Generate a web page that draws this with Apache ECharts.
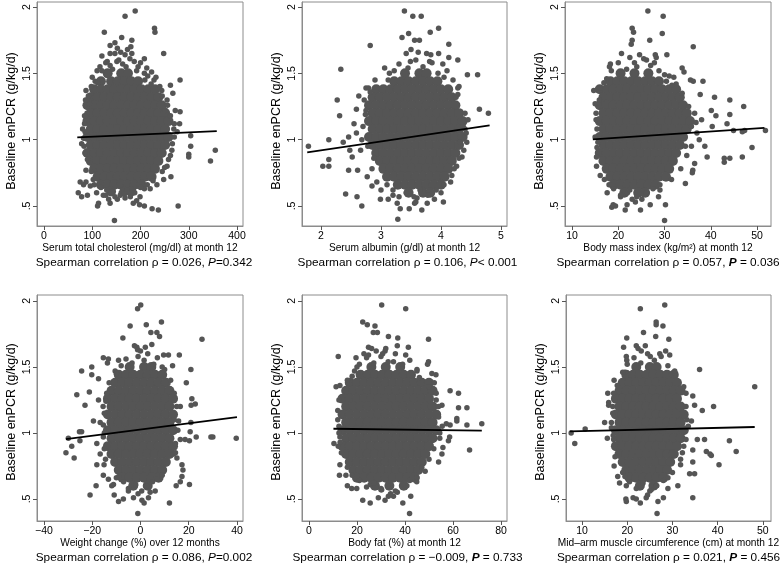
<!DOCTYPE html>
<html>
<head>
<meta charset="utf-8">
<script src="https://cdn.jsdelivr.net/npm/echarts@6/dist/echarts.min.js"></script>
<style>
html, body { margin: 0; padding: 0; background: #fff; }
#chart { width: 784px; height: 565px; }
</style>
</head>
<body>
<div id="chart"></div>
<script>
var yTicks = [0.5, 1, 1.5, 2];

// dense centre of each cloud: [y, x, x, x ...]
var cholCore = [
    [1.50,132,160,174],
    [1.44,118,139,153,167,181,195],
    [1.38,104,118,132,146,160,174,188,202,216,230],
    [1.32,97,111,125,139,153,167,181,195,209,223,237],
    [1.26,90,104,118,132,146,160,174,188,202,216,230,244],
    [1.20,97,111,125,139,153,167,181,195,209,223,237,251],
    [1.14,90,104,118,132,146,160,174,188,202,216,230,244,258],
    [1.08,97,111,125,139,153,167,181,195,209,223,237,251],
    [1.02,90,104,118,132,146,160,174,188,202,216,230,244,258],
    [0.96,97,111,125,139,153,167,181,195,209,223,237,251],
    [0.90,90,104,118,132,146,160,174,188,202,216,230,244],
    [0.84,97,111,125,139,153,167,181,195,209,223,237],
    [0.78,104,118,132,146,160,174,188,202,216,230],
    [0.72,111,125,139,153,167,181,195,209,223],
    [0.66,118,132,146,160,174,188,202],
    [0.61,139,167,181]
];
var cholPts = [
    [168,1.93],[189,1.97],[125,1.81],[229,1.84],[230,1.81],[161,1.77],[182,1.75],[180,1.70],[137,1.71],[147,1.73],
    [137,1.65],[147,1.65],[168,1.64],[182,1.65],[248,1.65],[159,1.66],[131,1.59],[151,1.59],[187,1.59],[208,1.61],
    [116,1.55],[137,1.56],[163,1.57],[213,1.54],[223,1.51],[282,1.45],[262,1.41],[244,1.37],[267,1.35],[255,1.30],
    [87,1.37],[272,1.22],[282,1.21],[281,1.12],[269,1.08],[304,1.03],[304,0.95],[300,0.89],[300,0.87],[345,0.84],
    [355,0.92],[265,0.92],[258,0.85],[263,0.72],[248,0.70],[234,0.66],[220,0.63],[208,0.63],[278,0.50],[237,0.47],
    [224,0.48],[146,0.39],[111,0.50],[113,0.52],[137,0.52],[152,0.55],[147,0.57],[185,0.52],[198,0.51],[208,0.50],
    [179,0.57],[199,0.57],[109,0.60],[123,0.58],[71,0.60],[78,0.57],[90,0.58],[96,0.65],[87,0.68],[82,0.66],
    [75,0.68],[78,0.97],[82,1.01],[85,1.06],[89,1.20],[94,1.27],[90,0.85],[87,0.77],[100,1.47],[208,1.50],
    [228,1.45],[240,1.40],[256,1.26],[262,1.18],[270,1.02],[266,0.97],[255,0.80],[245,0.76],[102,0.70],[98,0.76],
    [85,0.90],[84,1.12],[86,1.30],[110,1.52],[195,1.55],[168,0.56],[160,0.60],[130,0.62],
    [120,1.52],[128,1.58],[142,1.53],[155,1.60],[170,1.55],[178,1.61],[192,1.52],[200,1.58],[215,1.48],[106,1.44],
    [232,1.47],[120,1.63],[173,1.68],[152,1.69],[118,0.64],[128,0.58],[140,0.61],[158,0.58],[172,0.62],[188,0.60],
    [200,0.64],[214,0.66],[226,0.69],[104,0.66],[134,0.55],[192,0.54],[84,1.18],[80,1.08],[83,0.95],[92,1.33],
    [98,1.40],[270,1.12],[262,0.88],[250,0.79],[276,1.06],[245,1.33],[252,1.22],[111,1.43],[209,1.45],[222,1.42]
];
var cholFit = [[69,1.017],[358,1.064]];

var albCore = [
    [1.50,3.40,3.64,3.76],
    [1.44,3.22,3.34,3.46,3.58,3.70,3.82,3.94],
    [1.38,2.92,3.04,3.16,3.28,3.40,3.52,3.64,3.76,3.88,4.00,4.12],
    [1.32,2.86,2.98,3.10,3.22,3.34,3.46,3.58,3.70,3.82,3.94,4.06,4.18],
    [1.26,2.80,2.92,3.04,3.16,3.28,3.40,3.52,3.64,3.76,3.88,4.00,4.12,4.24],
    [1.20,2.86,2.98,3.10,3.22,3.34,3.46,3.58,3.70,3.82,3.94,4.06,4.18,4.30],
    [1.14,2.80,2.92,3.04,3.16,3.28,3.40,3.52,3.64,3.76,3.88,4.00,4.12,4.24,4.36],
    [1.08,2.86,2.98,3.10,3.22,3.34,3.46,3.58,3.70,3.82,3.94,4.06,4.18,4.30],
    [1.02,2.80,2.92,3.04,3.16,3.28,3.40,3.52,3.64,3.76,3.88,4.00,4.12,4.24,4.36],
    [0.96,2.86,2.98,3.10,3.22,3.34,3.46,3.58,3.70,3.82,3.94,4.06,4.18,4.30],
    [0.90,2.92,3.04,3.16,3.28,3.40,3.52,3.64,3.76,3.88,4.00,4.12,4.24],
    [0.84,2.98,3.10,3.22,3.34,3.46,3.58,3.70,3.82,3.94,4.06,4.18],
    [0.78,3.04,3.16,3.28,3.40,3.52,3.64,3.76,3.88,4.00,4.12],
    [0.72,3.10,3.22,3.34,3.46,3.58,3.70,3.82,3.94,4.06],
    [0.66,3.28,3.40,3.52,3.64,3.76,3.88,4.00],
    [0.60,3.46,3.70,3.82]
];
var albPts = [
    [3.39,1.97],[3.53,1.93],[3.67,1.93],[3.46,1.80],[3.82,1.81],[3.96,1.84],[3.35,1.77],[3.56,1.75],[3.64,1.75],[2.82,1.71],
    [3.42,1.65],[3.76,1.65],[3.83,1.64],[3.96,1.65],[4.13,1.72],[4.13,1.62],[3.81,1.59],[3.49,1.59],[4.03,1.57],[4.28,1.60],
    [2.33,1.53],[3.06,1.54],[3.14,1.50],[4.44,1.49],[4.61,1.49],[4.28,1.39],[4.28,1.34],[2.75,1.39],[2.79,1.39],[2.27,1.30],
    [2.63,1.33],[2.59,1.23],[2.31,1.18],[2.74,1.19],[4.64,1.23],[4.79,1.20],[4.37,1.10],[4.42,1.05],[4.43,0.98],[4.38,0.92],
    [4.35,0.87],[4.26,0.80],[4.18,0.73],[4.16,0.68],[1.79,0.95],[2.13,1.00],[2.46,1.02],[2.37,0.98],[2.48,0.92],[2.52,0.87],
    [2.59,1.05],[2.03,0.80],[2.13,0.85],[2.13,0.80],[2.46,0.77],[2.61,0.77],[2.41,0.59],[2.60,0.57],[2.68,0.50],[2.77,0.72],
    [2.85,0.65],[2.99,0.55],[3.12,0.55],[3.27,0.52],[3.32,0.48],[3.47,0.48],[3.56,0.52],[3.68,0.47],[3.77,0.52],[3.89,0.55],
    [4.04,0.53],[3.28,0.40],[2.93,0.68],[2.66,0.92],[2.85,0.78],[2.70,1.10],[2.72,1.30],[2.68,1.00],[2.90,1.45],[4.20,1.45],
    [4.30,1.40],[4.40,1.20],[4.32,0.98],[3.00,0.62],[3.20,0.58],[3.60,0.56],[4.00,0.60],[4.10,1.52],[2.55,1.12],[2.88,0.86],
    [3.22,1.52],[3.30,1.57],[3.45,1.54],[3.58,1.60],[3.70,1.55],[3.85,1.58],[3.95,1.50],[4.05,1.47],[3.12,1.45],[3.62,1.66],
    [3.50,1.68],[3.20,0.62],[3.30,0.57],[3.42,0.60],[3.55,0.57],[3.65,0.62],[3.78,0.58],[3.92,0.62],[4.05,0.66],[3.10,0.66],
    [3.58,0.53],[2.78,0.95],[2.75,1.22],[2.82,1.36],[4.40,1.08],[4.45,1.15],[4.30,0.86],[4.22,0.78],[4.25,1.32]
];
var albFit = [[1.77,0.904],[4.81,1.107]];

var bmiCore = [
    [1.50,20.5,23.5,26.5],
    [1.44,18.3,19.8,21.3,22.8,24.3,25.8,27.3,28.8],
    [1.38,16,17.5,19,20.5,22,23.5,25,26.5,28,29.5,31,32.5],
    [1.32,16.8,18.3,19.8,21.3,22.8,24.3,25.8,27.3,28.8,30.3,31.8,33.3],
    [1.26,16,17.5,19,20.5,22,23.5,25,26.5,28,29.5,31,32.5,34],
    [1.20,16.8,18.3,19.8,21.3,22.8,24.3,25.8,27.3,28.8,30.3,31.8,33.3,34.8],
    [1.14,16,17.5,19,20.5,22,23.5,25,26.5,28,29.5,31,32.5,34,35.5],
    [1.08,16.8,18.3,19.8,21.3,22.8,24.3,25.8,27.3,28.8,30.3,31.8,33.3,34.8],
    [1.02,16,17.5,19,20.5,22,23.5,25,26.5,28,29.5,31,32.5,34],
    [0.96,16.8,18.3,19.8,21.3,22.8,24.3,25.8,27.3,28.8,30.3,31.8,33.3],
    [0.90,16,17.5,19,20.5,22,23.5,25,26.5,28,29.5,31,32.5],
    [0.84,16.8,18.3,19.8,21.3,22.8,24.3,25.8,27.3,28.8,30.3,31.8],
    [0.78,17.5,19,20.5,22,23.5,25,26.5,28,29.5,31],
    [0.72,18.3,19.8,21.3,22.8,24.3,25.8,27.3,28.8,30.3],
    [0.66,19,20.5,22,23.5,25,26.5,28],
    [0.60,21.3,24.3,25.8]
];
var bmiPts = [
    [26.4,1.97],[29.7,1.93],[23.0,1.84],[23.3,1.81],[29.5,1.80],[23.0,1.75],[22.8,1.72],[26.8,1.75],[36.2,1.70],[28.0,1.64],
    [28.2,1.62],[30.5,1.64],[24.6,1.64],[20.7,1.65],[26.1,1.60],[18.3,1.57],[18.1,1.55],[23.5,1.58],[33.8,1.54],[34.2,1.51],
    [35.6,1.45],[36.2,1.44],[38.3,1.44],[37.7,1.34],[14.7,1.37],[16.1,1.39],[15.9,1.30],[15.0,1.27],[40.8,1.32],[44.1,1.30],
    [40.1,1.22],[41.1,1.18],[44.1,1.19],[47.1,1.25],[43.5,1.12],[40.3,1.10],[44.9,1.07],[46.8,1.06],[47.3,1.07],[51.8,1.07],
    [48.9,0.94],[46.8,0.87],[44.1,0.86],[42.9,0.86],[42.9,0.83],[38.7,0.95],[39.2,0.87],[36.5,0.82],[36.1,0.77],[36.0,0.75],
    [34.5,0.67],[15.0,1.02],[15.4,0.94],[15.3,0.87],[15.3,0.80],[16.1,0.73],[18.6,0.49],[18.9,0.51],[19.4,0.50],[21.5,0.47],
    [21.9,0.51],[24.8,0.47],[26.9,0.51],[30.2,0.51],[30.0,0.39],[23.7,0.53],[25.1,0.55],[20.5,0.57],[17.6,0.60],[28.7,0.57],
    [36.5,1.20],[37.0,1.05],[35.8,0.95],[34.8,0.88],[33.5,0.78],[31.5,0.70],[17.0,0.70],[31.0,1.48],[32.5,1.42],[17.5,1.46],
    [15.2,1.15],[38.0,1.15],[37.5,1.00],[29.0,0.62],[22.0,0.60],
    [18.5,1.52],[20,1.58],[21.8,1.53],[24,1.55],[25.5,1.61],[27,1.56],[28.8,1.52],[30,1.49],[32,1.47],[22.5,1.62],
    [27.8,1.58],[19,0.63],[20.5,0.58],[22.5,0.62],[24,0.57],[26,0.60],[27.5,0.63],[29,0.66],[23,0.55],[18,0.66],
    [15.2,1.20],[15.4,1.08],[15.6,0.98],[35.8,1.10],[35.2,1.25],[34.5,0.95],[33.8,1.35],[36.8,1.13],
    [16.9,1.43],[30.4,1.44],[31.6,1.41]
];
var bmiFit = [[14.5,1.002],[51.6,1.089]];

var wtCore = [
    [1.50,-4.5,1.5,4.5],
    [1.44,-9,-6,-3,0,3,6,9],
    [1.38,-10.5,-7.5,-4.5,-1.5,1.5,4.5,7.5,10.5],
    [1.32,-12,-9,-6,-3,0,3,6,9,12],
    [1.26,-13.5,-10.5,-7.5,-4.5,-1.5,1.5,4.5,7.5,10.5,13.5],
    [1.20,-12,-9,-6,-3,0,3,6,9,12],
    [1.14,-13.5,-10.5,-7.5,-4.5,-1.5,1.5,4.5,7.5,10.5,13.5],
    [1.08,-12,-9,-6,-3,0,3,6,9,12],
    [1.02,-13.5,-10.5,-7.5,-4.5,-1.5,1.5,4.5,7.5,10.5,13.5],
    [0.96,-12,-9,-6,-3,0,3,6,9,12],
    [0.90,-13.5,-10.5,-7.5,-4.5,-1.5,1.5,4.5,7.5,10.5,13.5],
    [0.84,-12,-9,-6,-3,0,3,6,9,12],
    [0.78,-10.5,-7.5,-4.5,-1.5,1.5,4.5,7.5,10.5],
    [0.72,-9,-6,-3,0,3,6,9],
    [0.66,-7.5,-4.5,-1.5,1.5,4.5,7.5],
    [0.60,-3,3]
];
var wtPts = [
    [0.1,1.97],[-1.2,1.94],[8.7,1.84],[-4.3,1.81],[2.4,1.82],[4.3,1.76],[6.8,1.76],[7.9,1.73],[-7.3,1.72],[25.5,1.71],
    [-1.5,1.65],[-1.2,1.63],[2.0,1.65],[4.7,1.67],[16.1,1.59],[9.6,1.59],[11.6,1.59],[-15.4,1.57],[-13.3,1.56],[-9.1,1.55],
    [-13.7,1.53],[-20.2,1.50],[-24.4,1.47],[-20.2,1.44],[-17.4,1.41],[13.3,1.51],[20.9,1.48],[19.0,1.38],[-21.2,1.31],[-26.4,1.29],
    [-23.0,1.21],[-17.4,1.25],[-14.3,1.24],[21.3,1.26],[21.0,1.21],[22.7,1.22],[16.5,1.20],[-19.5,1.09],[-16.7,1.08],[-25.3,1.01],
    [-24.4,1.01],[-29.9,0.96],[-28.5,0.90],[-30.9,0.85],[-27.5,0.81],[-25.1,0.94],[-18.1,0.92],[-16.7,0.84],[-15.1,0.76],[-18.1,0.76],
    [-18.4,0.60],[-20.9,0.53],[-11.9,0.60],[-10.9,0.53],[-9.1,0.48],[-7.1,0.50],[-5.0,0.56],[-2.9,0.51],[0.6,0.49],[1.5,0.47],
    [3.3,0.51],[6.1,0.56],[12.0,0.47],[-1.1,0.39],[14.8,0.60],[16.5,0.63],[17.2,0.67],[17.6,0.72],[20.3,0.61],[16.5,0.95],
    [18.5,0.95],[20.6,1.01],[20.3,0.94],[23.1,0.97],[29.2,0.97],[30.0,0.97],[39.7,0.96],[20.9,1.08],[15.8,1.09],[13.7,0.84],
    [15.1,0.81],[17.2,0.76],[-15.4,0.97],[-15.4,1.06],[-15.4,0.68],[-13.3,0.65],[-11.2,0.61],[-14,1.30],[-15,1.15],[-15,0.88],
    [14,1.30],[14,1.10],[14.5,0.92],[-10,0.66],[9,0.68],[-10.5,1.47],[10,1.48],
    [-8,1.51],[-6,1.56],[-3.5,1.53],[-1,1.58],[1.5,1.55],[3,1.60],[5.5,1.52],[7,1.57],[9,1.50],[-10,1.45],
    [0,1.62],[-2.5,1.66],[-7,0.63],[-5,0.58],[-2,0.61],[0.5,0.56],[2.5,0.60],[5,0.63],[7,0.65],[-9,0.67],
    [-1,0.54],[4,0.55],[-15.5,1.20],[-15,1.00],[-14.5,0.80],[15,1.20],[15.5,1.02],[14.5,0.85],[-13,1.38],[12.5,1.40]
];
var wtFit = [[-30.9,0.954],[40,1.12]];

var fatCore = [
    [1.50,26,32,38],
    [1.44,21.5,24.5,27.5,30.5,33.5,36.5,39.5,42.5],
    [1.38,17,20,23,26,29,32,35,38,41,44,47,50],
    [1.32,15.5,18.5,21.5,24.5,27.5,30.5,33.5,36.5,39.5,42.5,45.5,48.5,51.5],
    [1.26,14,17,20,23,26,29,32,35,38,41,44,47,50],
    [1.20,15.5,18.5,21.5,24.5,27.5,30.5,33.5,36.5,39.5,42.5,45.5,48.5,51.5],
    [1.14,14,17,20,23,26,29,32,35,38,41,44,47,50,53],
    [1.08,15.5,18.5,21.5,24.5,27.5,30.5,33.5,36.5,39.5,42.5,45.5,48.5,51.5],
    [1.02,14,17,20,23,26,29,32,35,38,41,44,47,50,53],
    [0.96,15.5,18.5,21.5,24.5,27.5,30.5,33.5,36.5,39.5,42.5,45.5,48.5,51.5],
    [0.90,14,17,20,23,26,29,32,35,38,41,44,47,50],
    [0.84,15.5,18.5,21.5,24.5,27.5,30.5,33.5,36.5,39.5,42.5,45.5,48.5],
    [0.78,17,20,23,26,29,32,35,38,41,44,47],
    [0.72,18.5,21.5,24.5,27.5,30.5,33.5,36.5,39.5,42.5,45.5],
    [0.66,20,23,26,29,32,35,38,41,44],
    [0.60,27.5,33.5,39.5]
];
var fatPts = [
    [30.3,1.97],[40.3,1.94],[22.4,1.84],[24.3,1.82],[27.5,1.81],[26.8,1.76],[28.5,1.76],[33.1,1.73],[37.0,1.72],[36.8,1.66],
    [41.4,1.65],[49.8,1.71],[24.8,1.65],[26.1,1.64],[31.7,1.62],[30.7,1.60],[22.9,1.60],[24.8,1.59],[40.3,1.59],[12.2,1.58],
    [19.6,1.57],[35.2,1.54],[49.8,1.54],[49.4,1.52],[51.2,1.45],[52.9,1.44],[52.2,1.38],[11.3,1.35],[12.9,1.36],[58.8,1.32],
    [62.3,1.30],[55.4,1.21],[62.3,1.19],[65.8,1.19],[57.2,1.07],[61.6,1.11],[61.6,1.09],[65.8,1.06],[72.0,1.07],[58.8,1.06],
    [58.6,0.97],[58.1,0.94],[55.8,0.89],[55.4,0.84],[54.0,0.78],[66.9,0.87],[10.4,0.92],[12.9,0.97],[12.2,0.90],[12.9,0.76],
    [12.7,0.68],[15.4,0.68],[16.0,0.60],[17.8,0.58],[19.9,0.58],[22.4,0.49],[25.5,0.47],[28.9,0.51],[31.7,0.49],[33.1,0.52],
    [35.2,0.52],[36.8,0.55],[39.1,0.47],[42.4,0.52],[41.9,0.39],[25.5,0.61],[30.3,0.57],[40.8,0.60],[44.9,0.63],[48.4,0.71],
    [53,1.30],[54,1.20],[55.5,1.05],[54.5,0.96],[12.5,1.25],[12,1.10],[12.5,1.00],[13.5,0.85],[16,0.74],[47,0.74],
    [50,0.80],[20,1.50],[45,1.48],[30,0.58],
    [21,1.52],[24,1.57],[27,1.53],[30,1.58],[33,1.54],[36,1.60],[39,1.52],[42,1.55],[45,1.47],[19,1.47],
    [32,1.64],[28,1.62],[21,0.64],[24,0.59],[27,0.62],[30,0.57],[33,0.60],[36,0.56],[39,0.61],[42,0.64],
    [45,0.66],[18,0.68],[34,0.54],[12,1.17],[12.5,1.05],[13,0.93],[54,1.12],[54.5,1.00],[53,1.25],[52,0.88],
    [50,1.35],[16,1.40],[18,1.43],[46,1.42]
];
var fatFit = [[10.2,1.032],[72,1.017]];

var mamcCore = [
    [1.50,22,25,26.5],
    [1.44,19.8,21.3,22.8,24.3,25.8,27.3,28.8,30.3],
    [1.38,19,20.5,22,23.5,25,26.5,28,29.5,31],
    [1.32,18.3,19.8,21.3,22.8,24.3,25.8,27.3,28.8,30.3,31.8],
    [1.26,17.5,19,20.5,22,23.5,25,26.5,28,29.5,31],
    [1.20,18.3,19.8,21.3,22.8,24.3,25.8,27.3,28.8,30.3,31.8],
    [1.14,17.5,19,20.5,22,23.5,25,26.5,28,29.5,31,32.5],
    [1.08,18.3,19.8,21.3,22.8,24.3,25.8,27.3,28.8,30.3,31.8],
    [1.02,17.5,19,20.5,22,23.5,25,26.5,28,29.5,31,32.5],
    [0.96,18.3,19.8,21.3,22.8,24.3,25.8,27.3,28.8,30.3,31.8],
    [0.90,17.5,19,20.5,22,23.5,25,26.5,28,29.5,31],
    [0.84,18.3,19.8,21.3,22.8,24.3,25.8,27.3,28.8,30.3],
    [0.78,19,20.5,22,23.5,25,26.5,28,29.5],
    [0.72,19.8,21.3,22.8,24.3,25.8,27.3,28.8],
    [0.66,20.5,22,23.5,25,26.5,28],
    [0.60,22.8,25.8]
];
var mamcPts = [
    [28.3,1.97],[22.9,1.94],[26.4,1.84],[26.4,1.82],[27.9,1.81],[23.6,1.76],[26.3,1.73],[29.2,1.71],[19.9,1.72],[22.0,1.66],
    [22.4,1.64],[19.2,1.65],[23.1,1.62],[27.2,1.60],[29.4,1.59],[25.1,1.58],[19.8,1.58],[19.9,1.55],[36.0,1.48],[15.7,1.30],
    [15.9,1.23],[15.9,1.21],[17.1,1.40],[34.5,1.28],[34.9,1.21],[36.6,1.17],[39.1,1.20],[48.2,1.35],[34.2,1.09],[15.0,1.08],
    [16.5,1.04],[10.7,1.03],[7.6,1.00],[8.4,0.92],[15.6,0.96],[35.5,0.95],[37.1,0.95],[42.6,0.94],[37.5,0.86],[38.3,0.84],
    [38.6,0.83],[34.5,0.87],[44.1,0.86],[40.3,0.76],[34.5,0.78],[31.8,0.76],[34.9,0.69],[33.8,0.69],[31.2,0.60],[34.5,0.51],
    [19.8,0.60],[19.7,0.50],[19.8,0.48],[21.3,0.51],[22.0,0.50],[22.9,0.47],[24.2,0.51],[26.8,0.48],[28.0,0.51],[29.0,0.58],
    [26.6,0.39],[25.3,0.57],[18.3,0.62],[17.9,0.67],[17.1,0.75],[32.5,1.35],[33,1.20],[33.5,1.05],[33,0.95],[32.2,0.85],
    [17,1.30],[16.8,1.15],[17,0.95],[17.3,0.82],[30,0.70],[19,0.70],[30.5,1.45],[19.5,1.46],[26.5,0.60],
    [20,1.52],[21.5,1.57],[23,1.53],[24.5,1.60],[26,1.55],[27.5,1.58],[29,1.51],[30.5,1.47],[19,1.46],[24,1.66],
    [28.5,1.62],[20.5,0.63],[22,0.58],[23.5,0.62],[25,0.56],[26.5,0.60],[28,0.64],[29,0.66],[19.5,0.67],[24.5,0.53],
    [16.8,1.20],[16.5,1.08],[16.9,0.98],[33.2,1.10],[33,1.30],[32.5,0.90],[31.8,0.80],[17.8,1.36]
];
var mamcFit = [[7.3,1.012],[48.2,1.045]];

var xTitles = [
    'Serum total cholesterol (mg/dl) at month 12',
    'Serum albumin (g/dl) at month 12',
    'Body mass index (kg/m\u00b2) at month 12',
    'Weight change (%) over 12 months',
    'Body fat (%) at month 12',
    'Mid\u2013arm muscle circumference (cm) at month 12'
];
var rhoText = ['0.026', '0.106', '0.057', '0.086', '\u22120.009', '0.021'];
var pText = ['=0.342', '< 0.001', ' = 0.036', '=0.002', ' = 0.733', ' = 0.456'];
var pBold = [false, false, true, false, true, true];

var xTicks = [[0,100,200,300,400],[2,3,4,5],[10,20,30,40,50],[-40,-20,0,20,40],[0,20,40,60,80],[10,20,30,40,50]];
var xRange = [[-14.5,412.4],[1.683,5.1],[8.49,53.0],[-42.9,42.5],[-2.9,82.5],[6.46,51.8]];

var coreData = [cholCore, albCore, bmiCore, wtCore, fatCore, mamcCore];
var pointData = [cholPts, albPts, bmiPts, wtPts, fatPts, mamcPts];
var fitData = [cholFit, albFit, bmiFit, wtFit, fatFit, mamcFit];

var boxes = [[37,2,206,224],[302,2,205,224],[565,2,206,224],[37,295,206,226],[302,295,205,226],[566,295,205,226]];
var yRange = [[0.349,2.038],[0.333,2.045]];
var statShift = [4, 3, 0, 4, 3, 0];

var FONT = '"Liberation Sans", Arial, Helvetica, sans-serif';
var DOT = '#555555';

function rowsToPairs(rows) {
    var out = [];
    rows.forEach(function (r) {
        for (var i = 1; i < r.length; i++) out.push([r[i], r[0]]);
    });
    return out;
}

var grids = [], xAxes = [], yAxes = [], series = [], graphics = [];

for (var i = 0; i < 6; i++) {
    var b = boxes[i];
    var row = i < 3 ? 0 : 1;
    grids.push({
        left: b[0], top: b[1], width: b[2], height: b[3],
        show: true, borderColor: '#8c8c8c', borderWidth: 1
    });
    xAxes.push({
        type: 'value', gridIndex: i,
        min: xRange[i][0], max: xRange[i][1],
        name: xTitles[i], nameLocation: 'middle', nameGap: 16,
        nameTextStyle: { fontFamily: FONT, fontSize: 10.2, color: '#000' },
        axisLine: { show: true, onZero: false, lineStyle: { color: '#8c8c8c', width: 1 } },
        axisTick: { show: true, length: 4, customValues: xTicks[i], lineStyle: { color: '#555' } },
        axisLabel: {
            customValues: xTicks[i], margin: 5,
            fontFamily: FONT, fontSize: 10.5, color: '#000',
            formatter: function (v) { return String(v).replace('-', '\u2212'); }
        },
        splitLine: { show: false }
    });
    yAxes.push({
        type: 'value', gridIndex: i,
        min: yRange[row][0], max: yRange[row][1],
        name: 'Baseline enPCR (g/kg/d)', nameLocation: 'middle', nameRotate: 90, nameGap: 19,
        nameTextStyle: { fontFamily: FONT, fontSize: 12.5, color: '#000', padding: [0, row === 0 ? 14 : 8, 0, 0] },
        axisLine: { show: true, onZero: false, lineStyle: { color: '#8c8c8c', width: 1 } },
        axisTick: { show: true, length: 4, customValues: yTicks, lineStyle: { color: '#555' } },
        axisLabel: {
            customValues: yTicks, rotate: 90, margin: 4,
            fontFamily: FONT, fontSize: 10.5, color: '#000',
            formatter: function (v) { return v === 0.5 ? '.5' : String(v); }
        },
        splitLine: { show: false }
    });
    series.push({
        type: 'scatter', xAxisIndex: i, yAxisIndex: i,
        data: rowsToPairs(coreData[i]), symbolSize: 10,
        itemStyle: { color: DOT, opacity: 1 }, silent: true, z: 2
    });
    series.push({
        type: 'scatter', xAxisIndex: i, yAxisIndex: i,
        data: pointData[i], symbolSize: 5.5,
        itemStyle: { color: DOT, opacity: 1 }, silent: true, z: 2
    });
    series.push({
        type: 'line', xAxisIndex: i, yAxisIndex: i,
        data: fitData[i], showSymbol: false, silent: true, z: 5,
        lineStyle: { color: '#000', width: 1.8 }
    });
    graphics.push({
        type: 'text',
        x: b[0] + b[2] / 2 + statShift[i],
        y: row === 0 ? 263 : 558,
        style: {
            text: '{n|Spearman correlation \u03c1 = ' + rhoText[i] + ', }{' + (pBold[i] ? 'pb' : 'p') + '|P}{n|' + pText[i] + '}',
            align: 'center', verticalAlign: 'middle',
            rich: {
                n: { fontFamily: FONT, fontSize: 11.8, fill: '#000' },
                p: { fontFamily: FONT, fontSize: 11.8, fontStyle: 'italic', fill: '#000' },
                pb: { fontFamily: FONT, fontSize: 11.8, fontStyle: 'italic', fontWeight: 'bold', fill: '#000' }
            }
        }
    });
}

var chart = echarts.init(document.getElementById('chart'));
chart.setOption({
    animation: false,
    backgroundColor: '#fff',
    grid: grids,
    xAxis: xAxes,
    yAxis: yAxes,
    series: series,
    graphic: graphics
});
</script>
</body>
</html>
